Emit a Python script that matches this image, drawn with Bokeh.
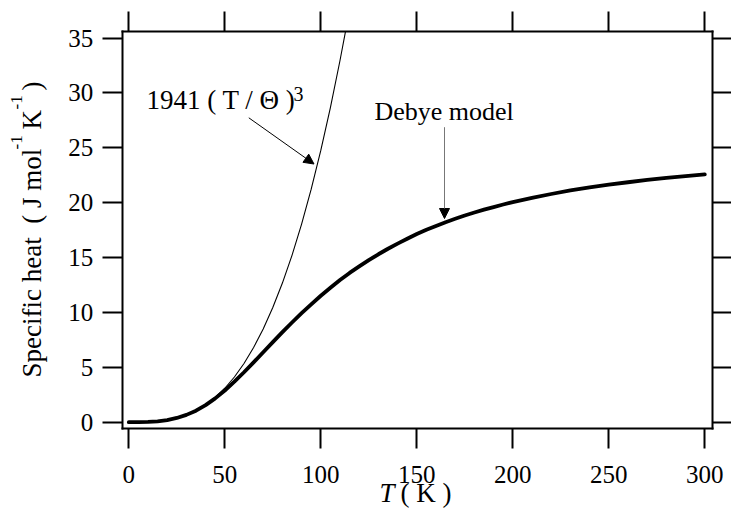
import math
from bokeh.plotting import figure
from bokeh.models import (Range1d, FixedTicker, LinearAxis, Label, Arrow,
                          NormalHead, Grid)
from bokeh.embed import file_html
from bokeh.resources import INLINE

# ---------------- data ----------------
T_debye = [0, 5, 10, 15, 20, 25, 30, 35, 40, 45, 50, 55, 60, 65, 70, 75, 80,
           85, 90, 95, 100, 105, 110, 115, 120, 125, 130, 135, 140, 145, 150,
           155, 160, 165, 170, 175, 180, 185, 190, 195, 200, 210, 220, 230,
           240, 250, 260, 270, 280, 290, 300]
C_debye = [0.0, 0.003, 0.025, 0.084, 0.198, 0.387, 0.668, 1.05, 1.56, 2.17,
           2.89, 3.69, 4.55, 5.45, 6.37, 7.29, 8.20, 9.08, 9.93, 10.74, 11.52,
           12.25, 12.95, 13.60, 14.19, 14.77, 15.30, 15.80, 16.27, 16.71,
           17.14, 17.53, 17.88, 18.22, 18.53, 18.83, 19.10, 19.36, 19.60,
           19.83, 20.05, 20.44, 20.79, 21.11, 21.39, 21.64, 21.86, 22.07,
           22.26, 22.42, 22.58]

# low-temperature T^3 law; the line ends where it leaves the top of the box
T_cube = [0, 5, 10, 15, 20, 25, 30, 35, 40, 45, 50, 55, 60, 65, 70, 75, 80,
          85, 90, 95, 100, 105, 110, 112.9]
C_cube = [0.0, 0.003, 0.025, 0.084, 0.198, 0.387, 0.668, 1.061, 1.585, 2.256,
          3.094, 4.119, 5.348, 6.799, 8.492, 10.444, 12.676, 15.204, 18.048,
          21.225, 24.757, 28.66, 32.95, 35.62]

x_ticks = [0, 50, 100, 150, 200, 250, 300]
y_ticks = [0, 5, 10, 15, 20, 25, 30, 35]

# ---------------- layout ----------------
W, H = 731, 508
FONT = "Liberation Serif"
# pixel <-> data mapping of the reference
XPX0, XPPU = 128.3, 1.92      # x=0 at px 128.3, 1.92 px per K
YPX0, YPPU = 421.7, 10.977    # y=0 at px 421.7, 10.977 px per unit


def px_x(px):
    return (px - XPX0) / XPPU


def px_y(py):
    return (YPX0 - py) / YPPU


# the plotting box (axis lines)
BX0, BX1 = px_x(121.7), px_x(711.7)
BY0, BY1 = px_y(428.3), px_y(30.7)

p = figure(width=W, height=H, output_backend="svg", toolbar_location=None,
           x_range=Range1d(px_x(0), px_x(W)), y_range=Range1d(px_y(H), px_y(0)),
           min_border=0, min_border_left=0, min_border_right=0,
           min_border_top=0, min_border_bottom=0,
           x_axis_location=None, y_axis_location=None,
           background_fill_color="white", border_fill_color="white")
p.outline_line_color = None
p.center = [c for c in p.center if not isinstance(c, Grid)]


def make_axis(ticks, fixed, bounds, labels=True, standoff=9):
    ax = LinearAxis(ticker=FixedTicker(ticks=ticks, minor_ticks=[]),
                    fixed_location=fixed, bounds=bounds)
    ax.axis_line_width = 2
    ax.axis_line_color = "black"
    ax.axis_line_cap = "square"
    ax.major_tick_line_width = 2
    ax.major_tick_line_color = "black"
    ax.major_tick_out = 20
    ax.major_tick_in = 0
    ax.minor_tick_out = 0
    ax.minor_tick_in = 0
    ax.major_label_text_font = FONT
    ax.major_label_text_color = "black"
    ax.major_label_text_font_size = "25px"
    ax.major_label_standoff = standoff
    if not labels:
        ax.major_label_overrides = {t: "" for t in ticks}
        ax.major_label_text_font_size = "0px"
        ax.major_label_standoff = 0
    return ax


p.add_layout(make_axis(y_ticks, BX0, (BY0, BY1), standoff=9), "left")
p.add_layout(make_axis(x_ticks, BY0, (BX0, BX1), standoff=17), "below")
p.add_layout(make_axis(x_ticks, BY1, (BX0, BX1), labels=False), "above")
p.add_layout(make_axis(y_ticks, BX1, (BY0, BY1), labels=False), "right")

# ---------------- curves ----------------
p.line(T_cube, C_cube, line_width=1.1, line_color="black", line_join="round")
p.line(T_debye, C_debye, line_width=3.8, line_color="black",
       line_join="round", line_cap="round")


# ---------------- annotations ----------------
# Bokeh draws the text a little below its anchor: correct for that
DY_H = 9     # horizontal texts
DX_R = 13    # rotated texts


def lab(x, y, text, size="26px", style="normal"):
    p.add_layout(Label(x=px_x(x), y=px_y(y - DY_H), text=text, text_font=FONT,
                       text_font_size=size, text_color="black",
                       text_font_style=style,
                       text_align="left", text_baseline="alphabetic"))


def rlab(x, y, text, size="27px"):
    p.add_layout(Label(x=px_x(x - DX_R), y=px_y(y), text=text, text_font=FONT,
                       text_font_size=size, text_color="black",
                       angle=math.pi / 2,
                       text_align="left", text_baseline="alphabetic"))


lab(146, 108, "1941 ( T / Θ )", size="27px")
lab(293, 102, "3", size="20px")
lab(374, 120, "Debye model")

# x axis title
lab(379, 501, "T", size="27px", style="italic")
lab(400, 501, "( K )", size="27px")

# y axis title (rotated)
rlab(44, 377, "Specific heat\u00a0 ( J mol")
rlab(29, 149, "-1", size="17px")
rlab(44, 129, "K")
rlab(29, 109, "-1", size="17px")
rlab(44, 90, ")")

p.add_layout(Arrow(x_start=px_x(248.3), y_start=px_y(117.3),
                   x_end=px_x(313.5), y_end=px_y(163.5),
                   line_width=1, line_color="black",
                   end=NormalHead(size=10, fill_color="black",
                                  line_color="black", line_width=1)))
p.add_layout(Arrow(x_start=px_x(444), y_start=px_y(126.7),
                   x_end=px_x(444), y_end=px_y(218),
                   line_width=1, line_color="#777777",
                   end=NormalHead(size=10, fill_color="black",
                                  line_color="black", line_width=1)))

open("out.html", "w").write(file_html(p, INLINE))
